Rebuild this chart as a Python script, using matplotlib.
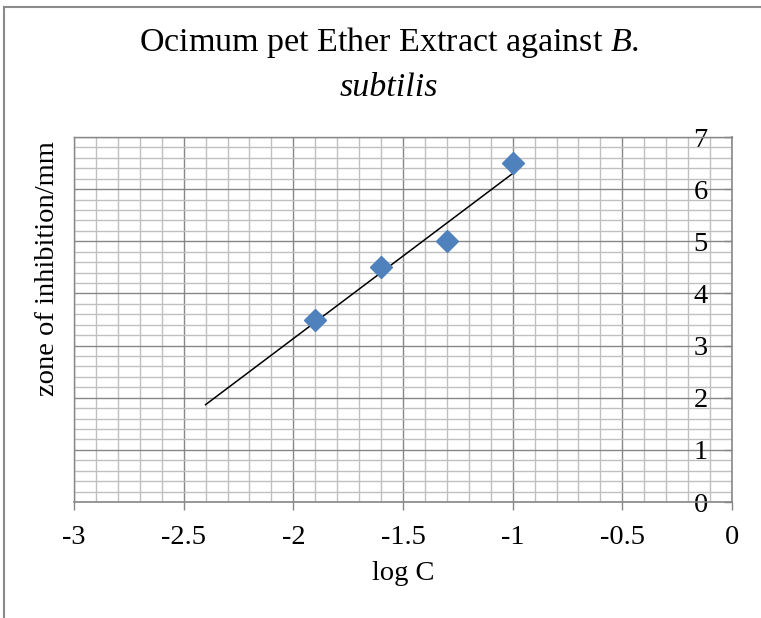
import matplotlib
matplotlib.use("Agg")
import matplotlib.pyplot as plt
from matplotlib.lines import Line2D
from matplotlib.ticker import MultipleLocator
import numpy as np

# Measured data: log concentration vs. zone of inhibition
log_c = [-1.9, -1.6, -1.3, -1.0]
zone_mm = [3.5, 4.5, 5.0, 6.5]

x_ticks = [-3, -2.5, -2, -1.5, -1, -0.5, 0]
x_tick_labels = ["-3", "-2.5", "-2", "-1.5", "-1", "-0.5", "0"]
y_ticks = [0, 1, 2, 3, 4, 5, 6, 7]

plt.rcParams["font.family"] = ["Liberation Serif", "DejaVu Serif"]
plt.rcParams["mathtext.fontset"] = "custom"
plt.rcParams["mathtext.rm"] = "Liberation Serif"
plt.rcParams["mathtext.it"] = "Liberation Serif:italic"

fig = plt.figure(figsize=(7.61, 6.18), dpi=100)
ax = fig.add_axes([0.0972, 0.1877, 0.8647, 0.5906])

major_c = "#878787"
minor_c = "#c0c0c0"

# Linear trendline (least squares), extended backwards by 0.5
slope, intercept = np.polyfit(log_c, zone_mm, 1)
xt = np.array([min(log_c) - 0.5, max(log_c)])
ax.plot(xt, slope * xt + intercept, color="black", lw=1.1, zorder=3)

ax.plot(log_c, zone_mm, linestyle="none", marker="D", markersize=11,
        color="#4F81BD", markeredgecolor="#4F81BD", zorder=4)

ax.set_xlim(-3, 0)
ax.set_ylim(0, 7)
ax.set_xticks(x_ticks)
ax.set_xticklabels(x_tick_labels)
ax.set_yticks(y_ticks)
ax.xaxis.set_minor_locator(MultipleLocator(0.1))
ax.yaxis.set_minor_locator(MultipleLocator(0.2))

ax.grid(which="minor", color=minor_c, lw=1.0, zorder=0)
ax.grid(which="major", color=major_c, lw=1.0, zorder=1)
ax.set_axisbelow(True)

for side in ["left", "top"]:
    ax.spines[side].set_color(major_c)
    ax.spines[side].set_linewidth(1.0)
for side in ["right", "bottom"]:
    ax.spines[side].set_color(major_c)
    ax.spines[side].set_linewidth(1.2)

# Vertical axis crosses at x = 0: ticks on the right, labels inside
ax.yaxis.tick_right()
ax.tick_params(axis="y", which="major", direction="in", length=6,
               width=1.0, color=major_c, pad=-17.5, labelsize=20.5)
for lbl in ax.get_yticklabels():
    lbl.set_horizontalalignment("right")
ax.tick_params(axis="y", which="minor", length=0)
ax.tick_params(axis="x", which="major", direction="out", length=6,
               width=1.0, color=major_c, pad=10.5, labelsize=20.5)
ax.tick_params(axis="x", which="minor", length=0)

ax.set_xlabel("log C", fontsize=20.5, labelpad=8)
fig.text(0.062, 0.566, "zone of inhibition/mm", rotation=90,
         ha="center", va="center", fontsize=20.5)

fig.text(0.511, 0.932, "Ocimum pet Ether Extract against $\\it{B}$.",
         ha="center", va="center", fontsize=24.5)
fig.text(0.511, 0.858, "subtilis", style="italic",
         ha="center", va="center", fontsize=24.5)

# Chart frame edges
fig.add_artist(Line2D([0.0053, 0.0053], [0.0, 0.989], transform=fig.transFigure,
                      color="#8a8a8a", lw=1.5))
fig.add_artist(Line2D([0.0053, 1.0], [0.989, 0.989], transform=fig.transFigure,
                      color="#8a8a8a", lw=1.5))

fig.savefig("out.png", dpi=100)
